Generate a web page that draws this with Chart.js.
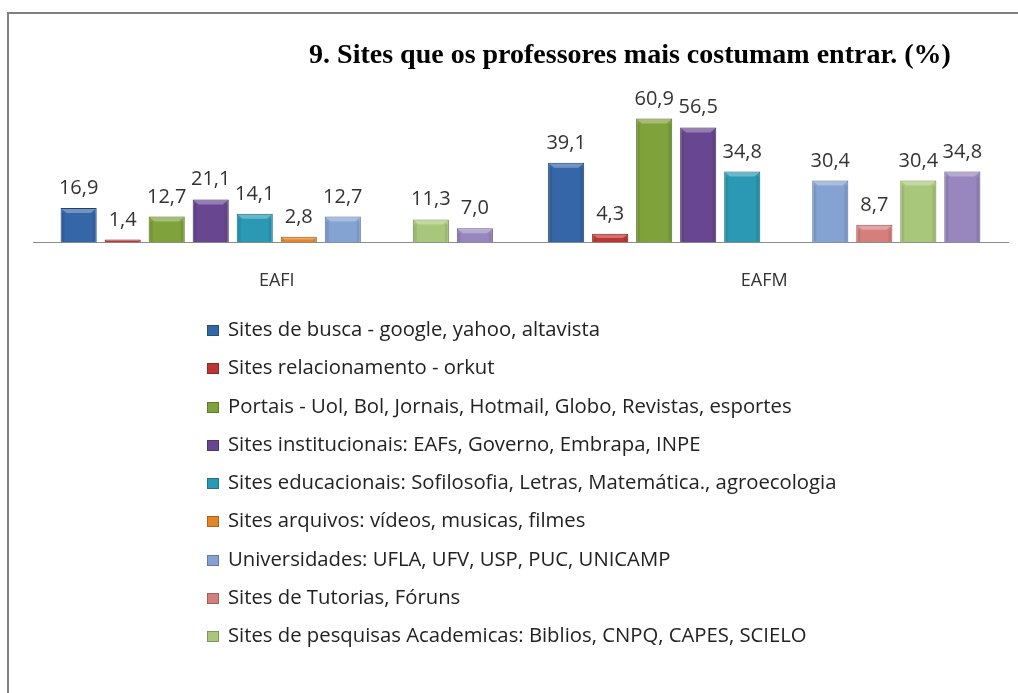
<!DOCTYPE html>
<html>
<head>
<meta charset="utf-8">
<script src="https://cdn.jsdelivr.net/npm/chart.js@4"></script>
<style>
  html, body { margin: 0; padding: 0; background: #fff; }
  #page { position: relative; width: 1018px; height: 693px; overflow: hidden; }
  #frame { position: absolute; left: 7px; top: 12px; width: 1020px; height: 700px;
           border-left: 2px solid #808080; border-top: 2px solid #808080; }
  #chartBox { position: absolute; left: 0; top: 0; width: 1018px; height: 320px; }
  #legend { position: absolute; left: 207px; top: 315px; font-family: "Open Sans", sans-serif;
            font-size: 20.3px; color: #222; }
  .item { height: 38.3px; line-height: 26px; white-space: nowrap; }
  .box { display: inline-block; width: 12px; height: 11px; margin-right: 9px; vertical-align: 0px;
         box-shadow: inset 0 0 0 1px rgba(0,0,0,0.25); }
</style>
</head>
<body>
<div id="page">
  <div id="frame"></div>
  <div id="chartBox"><canvas id="sitesChart"></canvas></div>
  <div id="legend"></div>
</div>
<script>
// categories and series
const categories = ['EAFI', 'EAFM'];
const seriesNames = [
  'Sites de busca - google, yahoo, altavista',
  'Sites relacionamento - orkut',
  'Portais - Uol, Bol, Jornais, Hotmail, Globo, Revistas, esportes',
  'Sites institucionais: EAFs, Governo, Embrapa, INPE',
  'Sites educacionais: Sofilosofia, Letras, Matemática., agroecologia',
  'Sites arquivos: vídeos, musicas, filmes',
  'Universidades: UFLA, UFV, USP, PUC, UNICAMP',
  'Sites de Tutorias, Fóruns',
  'Sites de pesquisas Academicas: Biblios, CNPQ, CAPES, SCIELO',
  'Outros'
];
const busca = [16.9, 39.1];
const relacionamento = [1.4, 4.3];
const portais = [12.7, 60.9];
const institucionais = [21.1, 56.5];
const educacionais = [14.1, 34.8];
const arquivos = [2.8, null];
const universidades = [12.7, 30.4];
const tutorias = [null, 8.7];
const pesquisas = [11.3, 30.4];
const outros = [7.0, 34.8];
const shownInLegend = 9; // last series is cut off in the original legend

const seriesValues = [busca, relacionamento, portais, institucionais, educacionais,
                      arquivos, universidades, tutorias, pesquisas, outros];
const colors = ['#3466A8', '#BC3733', '#7FA33A', '#684790', '#2B98B4',
                '#E5852A', '#84A2D2', '#D47F7C', '#A9C77A', '#9886BE'];
const borders = ['#223F66', '#7A1F1C', '#4F6A20', '#41295E', '#1A6376',
                 '#9A5615', '#556F97', '#9A4F4C', '#6F8A4C', '#625487'];

const datasets = seriesValues.map((vals, i) => ({
  label: seriesNames[i],
  data: vals,
  backgroundColor: colors[i],
  borderColor: borders[i],
  borderWidth: 1,
  categoryPercentage: 0.903,
  barPercentage: 0.82
}));

// light bevel on each bar, like the original 3D style
const bevel = {
  id: 'bevel',
  afterDatasetsDraw(chart) {
    const ctx = chart.ctx;
    ctx.save();
    chart.data.datasets.forEach((ds, i) => {
      chart.getDatasetMeta(i).data.forEach((bar, j) => {
        if (ds.data[j] === null) return;
        const w = bar.width, h = bar.base - bar.y;
        const x0 = bar.x - w / 2, y0 = bar.y;
        const b = Math.min(5, h / 2);
        ctx.fillStyle = 'rgba(255,255,255,0.3)';
        ctx.beginPath();
        ctx.moveTo(x0 + 1, y0 + 1);
        ctx.lineTo(x0 + w - 1, y0 + 1);
        ctx.lineTo(x0 + w - 1 - b, y0 + b);
        ctx.lineTo(x0 + 1 + b, y0 + b);
        ctx.closePath();
        ctx.fill();
        ctx.fillStyle = 'rgba(0,0,0,0.08)';
        ctx.fillRect(x0 + 1, y0 + b, 3, h - b - 1);
        ctx.fillRect(x0 + w - 4, y0 + b, 3, h - b - 1);
      });
    });
    ctx.restore();
  }
};

// value labels above bars, with decimal comma
const valueLabels = {
  id: 'valueLabels',
  afterDatasetsDraw(chart) {
    const ctx = chart.ctx;
    ctx.save();
    ctx.font = '20px "Open Sans", sans-serif';
    ctx.fillStyle = '#333';
    ctx.textAlign = 'center';
    ctx.textBaseline = 'alphabetic';
    chart.data.datasets.forEach((ds, i) => {
      chart.getDatasetMeta(i).data.forEach((bar, j) => {
        const v = ds.data[j];
        if (v === null || v === undefined) return;
        ctx.fillText(v.toFixed(1).replace('.', ','), bar.x, bar.y - 14);
      });
    });
    ctx.restore();
  }
};

// title drawn right of centre as in the original
const titlePlugin = {
  id: 'titlePlugin',
  afterDraw(chart) {
    const ctx = chart.ctx;
    ctx.save();
    ctx.font = 'bold 28px "Liberation Serif", serif';
    ctx.fillStyle = '#000';
    ctx.textAlign = 'center';
    ctx.textBaseline = 'alphabetic';
    ctx.fillText('9. Sites que os professores mais costumam entrar. (%)', 630, 63);
    ctx.restore();
  }
};

const sitesChart = new Chart(document.getElementById('sitesChart').getContext('2d'), {
  type: 'bar',
  data: { labels: categories, datasets: datasets },
  options: {
    responsive: true,
    maintainAspectRatio: false,
    animation: false,
    layout: { padding: { left: 33, right: 10, top: 100, bottom: 8 } },
    plugins: {
      legend: { display: false },
      tooltip: { enabled: false }
    },
    scales: {
      x: {
        grid: { display: false },
        border: { display: true, color: '#8c8c8c', width: 1 },
        ticks: { color: '#333', font: { family: '"Open Sans", sans-serif', size: 18 }, padding: 20 }
      },
      y: {
        display: false,
        min: 0,
        max: 70
      }
    }
  },
  plugins: [bevel, valueLabels, titlePlugin]
});

// HTML legend (vertical list)
const legendEl = document.getElementById('legend');
seriesNames.slice(0, shownInLegend).forEach((name, i) => {
  const row = document.createElement('div');
  row.className = 'item';
  const box = document.createElement('span');
  box.className = 'box';
  box.style.background = colors[i];
  row.appendChild(box);
  row.appendChild(document.createTextNode(name));
  legendEl.appendChild(row);
});
</script>
</body>
</html>
